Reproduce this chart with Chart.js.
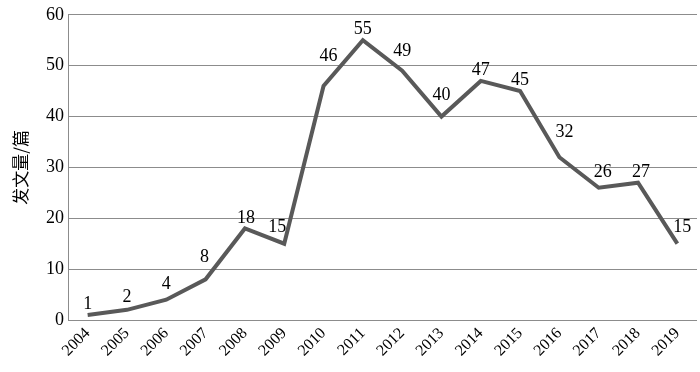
<!DOCTYPE html>
<html>
<head>
<meta charset="utf-8">
<script src="https://cdn.jsdelivr.net/npm/chart.js@4"></script>
<style>
  html, body { margin: 0; padding: 0; background: #fff; }
  #wrap { width: 700px; height: 372px; }
</style>
</head>
<body>
<div id="wrap"><canvas id="chart" width="700" height="372"></canvas></div>
<script>
const years = ['2004', '2005', '2006', '2007', '2008', '2009', '2010', '2011',
  '2012', '2013', '2014', '2015', '2016', '2017', '2018', '2019'];
const papers = [1, 2, 4, 8, 18, 15, 46, 55, 49, 40, 47, 45, 32, 26, 27, 15];
const yTicks = [0, 10, 20, 30, 40, 50, 60];

// label nudges (px) so the numbers sit clear of the line, like the original
const labelDx = [0, 0, 0, -1, 1, -7, 5, 0, 0, 0, 0, 0, 5, 4, 3, 5];
const labelDy = [11, 13, 15, 22, 10, 16, 30, 11, 19, 21, 11, 11, 25, 15, 10, 16];

const serif = '"Liberation Serif", "Times New Roman", serif';

const valueLabels = {
  id: 'valueLabels',
  afterDatasetsDraw(chart) {
    const ctx = chart.ctx;
    const meta = chart.getDatasetMeta(0);
    ctx.save();
    ctx.font = '18px ' + serif;
    ctx.fillStyle = '#000';
    ctx.textAlign = 'center';
    ctx.textBaseline = 'middle';
    meta.data.forEach((pt, i) => {
      ctx.fillText(String(papers[i]), pt.x + labelDx[i], pt.y - labelDy[i]);
    });
    ctx.restore();
  }
};

new Chart(document.getElementById('chart').getContext('2d'), {
  type: 'line',
  data: {
    labels: years,
    datasets: [{
      data: papers,
      borderColor: '#595959',
      borderWidth: 4,
      pointRadius: 0,
      tension: 0,
      fill: false
    }]
  },
  options: {
    responsive: false,
    animation: false,
    layout: { padding: { top: 13, right: 3, left: 10, bottom: 0 } },
    plugins: { legend: { display: false }, tooltip: { enabled: false } },
    scales: {
      x: {
        offset: true,
        grid: { display: false, drawTicks: false },
        border: { display: false },
        ticks: {
          color: '#000',
          font: { family: serif, size: 16 },
          maxRotation: 45,
          minRotation: 45,
          autoSkip: false,
          padding: 4
        },
        afterFit(scale) { scale.height = 52; }
      },
      y: {
        min: 0,
        max: 60,
        afterBuildTicks(scale) { scale.ticks = yTicks.map(v => ({ value: v })); },
        grid: { color: '#8c8c8c', lineWidth: 1, drawTicks: false },
        border: { display: true, color: '#8c8c8c', width: 1 },
        ticks: {
          color: '#000',
          font: { family: serif, size: 18 },
          padding: 4
        },
        title: {
          display: true,
          text: '发文量/篇',
          color: '#000',
          font: { family: '"Noto Sans CJK SC", sans-serif', size: 17 },
          padding: { top: 0, bottom: 5 }
        },
        afterFit(scale) { scale.width = 58; }
      }
    }
  },
  plugins: [valueLabels]
});
</script>
</body>
</html>
